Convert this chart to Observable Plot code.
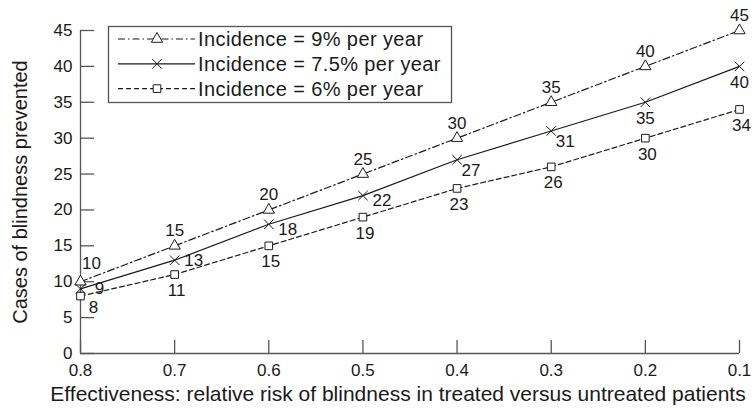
<!DOCTYPE html>
<html>
<head>
<meta charset="utf-8">
<script src="https://cdn.jsdelivr.net/npm/d3@7"></script>
<script src="https://cdn.jsdelivr.net/npm/@observablehq/plot@0.6"></script>
<style>
  html, body { margin: 0; padding: 0; background: #fff; }
  #chart { width: 756px; height: 408px; }
</style>
</head>
<body>
<div id="chart"></div>
<script>
// ---- data ----
const relativeRisk = [0.8, 0.7, 0.6, 0.5, 0.4, 0.3, 0.2, 0.1];
const incidence9 = [10, 15, 20, 25, 30, 35, 40, 45];
const incidence75 = [9, 13, 18, 22, 27, 31, 35, 40];
const incidence6 = [8, 11, 15, 19, 23, 26, 30, 34];
const seriesNames = ["Incidence = 9% per year", "Incidence = 7.5% per year", "Incidence = 6% per year"];
const yTicks = [0, 5, 10, 15, 20, 25, 30, 35, 40, 45];
const xTitle = "Effectiveness: relative risk of blindness in treated versus untreated patients";
const yTitle = "Cases of blindness prevented";

// ---- tidy table ----
const seriesValues = [incidence9, incidence75, incidence6];
const rows = [];
seriesValues.forEach((vals, s) => vals.forEach((v, i) => rows.push({s: seriesNames[s], k: s, rr: relativeRisk[i], v})));
const S = k => rows.filter(d => d.k === k);

const ink = "#1a1a1a";
const axisInk = "#555";
const dash = ["7,3,1.5,3", null, "5,3"];
const symbols = ["triangle", "times", "square"];
const radii = [4.2, 4.4, 4.3];

const txt = (data, dx, dy) => Plot.text(data, {x: "rr", y: "v", text: d => String(d.v), dx, dy, fontSize: 17, fill: ink, lineAnchor: "middle", textAnchor: "middle"});

const marks = [
  Plot.axisX(relativeRisk, {tickSize: -13, tickPadding: 23, tickFormat: d => d.toFixed(1), stroke: axisInk, strokeWidth: 1.3, fill: ink, fontSize: 17, label: null}),
  Plot.axisY(yTicks, {tickSize: -14, tickPadding: 22, tickFormat: d => String(d), stroke: axisInk, strokeWidth: 1.3, fill: ink, fontSize: 17, label: null}),
  Plot.ruleY([0], {stroke: axisInk, strokeWidth: 1.3}),
  Plot.ruleX([0.8], {stroke: axisInk, strokeWidth: 1.3}),
];
[0, 1, 2].forEach(k => {
  marks.push(Plot.line(S(k), {x: "rr", y: "v", stroke: ink, strokeWidth: 1.2, strokeDasharray: dash[k]}));
});
[0, 1, 2].forEach(k => {
  marks.push(Plot.dot(S(k), {x: "rr", y: "v", symbol: symbols[k], r: radii[k], stroke: ink, strokeWidth: 1, fill: k === 1 ? "none" : "white"}));
});
// value labels
marks.push(txt(S(0).filter(d => d.rr === 0.8), 11, -18));
marks.push(txt(S(0).filter(d => d.rr !== 0.8), 0, -15));
marks.push(txt(S(1).filter(d => d.rr >= 0.7), 19, 0));
marks.push(txt(S(1).filter(d => d.rr < 0.65 && d.rr > 0.45), 19, 5));
marks.push(txt(S(1).filter(d => d.rr < 0.45 && d.rr > 0.25), 14, 11));
marks.push(txt(S(1).filter(d => d.rr < 0.25), 0, 16));
marks.push(txt(S(2).filter(d => d.rr === 0.8), 13, 11));
marks.push(txt(S(2).filter(d => d.rr !== 0.8), 2, 16));
// axis titles
marks.push(Plot.text([xTitle], {frameAnchor: "bottom", textAnchor: "middle", dx: -12, dy: 41, fontSize: 21, fill: ink, lineAnchor: "middle"}));
marks.push(Plot.text([yTitle], {frameAnchor: "left", textAnchor: "middle", rotate: -90, dx: -60, fontSize: 20, fill: ink, lineAnchor: "middle"}));

const chart = Plot.plot({
  width: 756, height: 408,
  marginLeft: 80, marginRight: 17, marginTop: 30, marginBottom: 55,
  style: {fontFamily: "'Liberation Sans', Arial, Helvetica, sans-serif", color: ink, background: "white", overflow: "visible"},
  x: {domain: [0.8, 0.1], label: null},
  y: {domain: [0, 45], label: null},
  marks
});

// ---- legend (inside plot, top-left) ----
const svg = d3.select(chart);
const lg = svg.append("g").attr("class", "legend");
const box = {x: 108, y: 26, w: 343, h: 76};
lg.append("rect").attr("x", box.x + 0.5).attr("y", box.y + 0.5).attr("width", box.w).attr("height", box.h)
  .attr("fill", "white").attr("stroke", axisInk).attr("stroke-width", 1.3);
const d3sym = {triangle: d3.symbolTriangle, times: d3.symbolTimes, square: d3.symbolSquare};
seriesNames.forEach((name, k) => {
  const cy = box.y + 13 + k * 24.8;
  lg.append("line").attr("x1", box.x + 10).attr("x2", box.x + 87).attr("y1", cy).attr("y2", cy)
    .attr("stroke", ink).attr("stroke-width", 1.2).attr("stroke-dasharray", dash[k]);
  lg.append("path").attr("transform", `translate(${box.x + 49},${cy})`)
    .attr("d", d3.symbol(d3sym[symbols[k]], radii[k] * radii[k] * Math.PI)())
    .attr("fill", k === 1 ? "none" : "white").attr("stroke", ink).attr("stroke-width", 1);
  lg.append("text").attr("x", box.x + 90).attr("y", cy).attr("dy", "0.35em")
    .style("font-size", "20px").style("text-anchor", "start").style("letter-spacing", "0.4px")
    .attr("fill", ink).text(name);
});

document.getElementById("chart").appendChild(chart);
</script>
</body>
</html>
